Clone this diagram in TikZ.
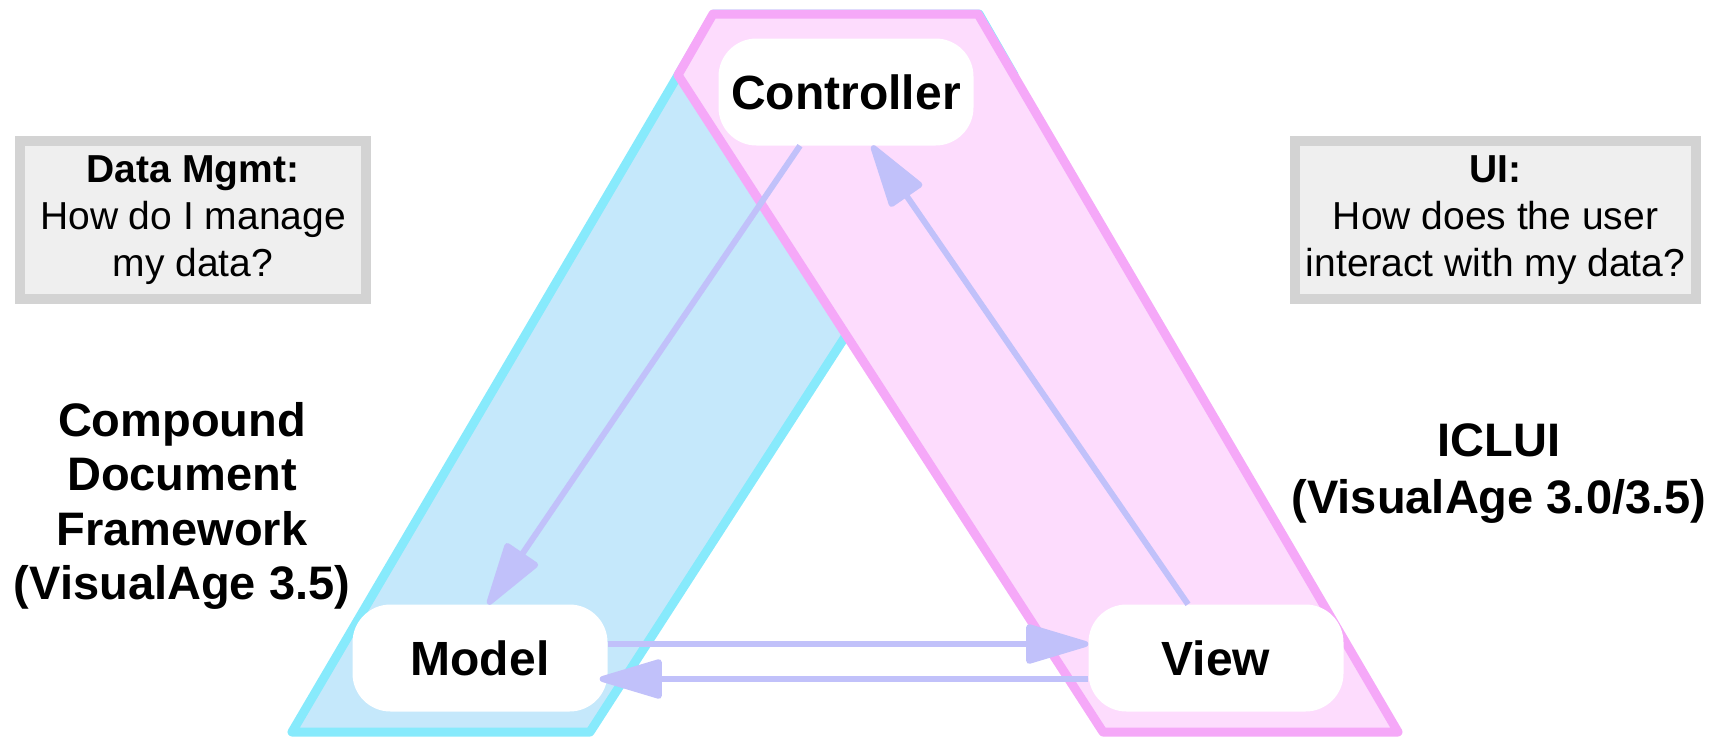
\documentclass[tikz,border=0pt]{standalone}
\usepackage{fontspec}
\setmainfont{Liberation Sans}
\usetikzlibrary{arrows.meta}
\definecolor{pinkfill}{HTML}{FDDCFD}
\definecolor{pinkline}{HTML}{F5A8F8}
\definecolor{bluefill}{HTML}{C5E8FB}
\definecolor{blueline}{HTML}{87EAFC}
\definecolor{arrowcol}{HTML}{C1C1FA}
\definecolor{boxfill}{HTML}{EFEFEF}
\definecolor{boxline}{HTML}{D3D3D3}
\begin{document}
\begin{tikzpicture}[x=1pt,y=-1pt,
  band/.style={line width=9pt, line join=round},
  mvc/.style={fill=white, rounded corners=38pt, minimum width=255pt,
    minimum height=107pt, inner sep=0pt,
    font=\fontsize{48}{58}\selectfont\bfseries},
  qbox/.style={draw=boxline, fill=boxfill, line width=10pt,
    minimum height=158pt, inner sep=0pt, align=center,
    font=\fontsize{39}{47}\selectfont},
  biglbl/.style={align=center, inner sep=0pt,
    font=\fontsize{47}{54.5}\selectfont\bfseries},
  arr/.style={draw=arrowcol, line width=6pt,
    -{Triangle[length=70pt,width=40pt,round]}, arrowcol}
]
\useasboundingbox (0,0) rectangle (1722,745);
% bands
\draw[band, draw=blueline, fill=bluefill]
  (714,14) -- (979,14) -- (1014,75) -- (590,732) -- (292,732) -- cycle;
\draw[band, draw=pinkline, fill=pinkfill]
  (713,14) -- (978,14) -- (1398,732) -- (1103,732) -- (678,75) -- cycle;
% MVC nodes
\node[mvc] (ctrl) at (846,92) {Controller};
\node[mvc] (model) at (480,658) {Model};
\node[mvc] (view) at (1216,658) {View};
% question boxes
\node[qbox, minimum width=346pt] (dm) at (193,220)
  {\textbf{Data Mgmt:}\\How do I manage\\my data?};
\node[qbox, minimum width=401pt] (ui) at (1495.5,220)
  {\textbf{UI:}\\How does the user\\interact with my data?};
% side labels
\node[biglbl] (cdf) at (182,506)
  {Compound\\Document\\Framework\\(VisualAge 3.5)};
\node[biglbl, font=\fontsize{47}{57}\selectfont\bfseries] (iclui) at (1499,474)
  {ICLUI\\(VisualAge 3.0/3.5)};
% connectors
\draw[arr] ([xshift=-46pt]ctrl.south) -- ([xshift=8pt]model.north);
\draw[arr] ([xshift=-28pt]view.north) -- ([xshift=26pt]ctrl.south);
\draw[arr] ([yshift=14pt]model.east) -- ([yshift=14pt]view.west);
\draw[arr] ([yshift=-21pt]view.west) -- ([yshift=-21pt,xshift=-8pt]model.east);
\end{tikzpicture}
\end{document}
